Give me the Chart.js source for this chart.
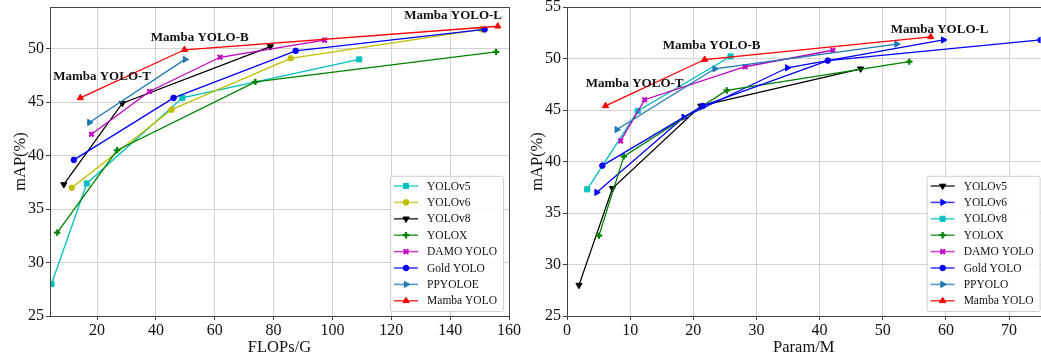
<!DOCTYPE html>
<html>
<head>
<meta charset="utf-8">
<script src="https://cdn.jsdelivr.net/npm/chart.js@4.4.1/dist/chart.umd.min.js"></script>
<style>
  body { margin: 0; background: #fff; overflow: hidden; }
  #left { position: absolute; left: 0; top: 0; width: 530px; height: 358px; }
  #right { position: absolute; left: 520px; top: 0; width: 526px; height: 358px; }
</style>
</head>
<body>
<div id="left"><canvas id="flopsChart"></canvas></div>
<div id="right"><canvas id="paramsChart"></canvas></div>
<script>
// values (FLOPs/G, Param/M vs mAP %)
const v5Flops = [4.5, 16.5, 49.0, 109.1];
const v5Params = [1.9, 7.2, 21.2, 46.5];
const v5Map = [28.0, 37.4, 45.4, 49.0];

const v6Flops = [11.4, 45.3, 85.8, 150.7];
const v6Params = [4.7, 18.5, 34.9, 59.6];
const v6Map = [37.0, 44.3, 49.1, 51.8];

const v8Flops = [8.7, 28.6, 78.9];
const v8Params = [3.2, 11.2, 25.9];
const v8Map = [37.3, 44.9, 50.2];

const yoloxFlops = [6.45, 26.8, 73.8, 155.6];
const yoloxParams = [5.06, 9.0, 25.3, 54.2];
const yoloxMap = [32.8, 40.5, 46.9, 49.7];

const damoFlops = [18.1, 37.8, 61.8, 97.3];
const damoParams = [8.5, 12.3, 28.2, 42.1];
const damoMap = [42.0, 46.0, 49.2, 50.8];

const goldFlops = [12.1, 46.0, 87.5, 151.7];
const goldParams = [5.6, 21.5, 41.3, 75.0];
const goldMap = [39.6, 45.4, 49.8, 51.8];

const ppFlops = [17.4, 49.9];
const ppFlopsMap = [43.1, 49.0];
const ppParams = [7.9, 23.4, 52.2];
const ppMap = [43.1, 49.0, 51.4];

const mambaFlops = [14.3, 49.7, 156.2];
const mambaParams = [6.1, 21.8, 57.6];
const mambaMap = [45.4, 49.9, 52.1];

const flopsTicks = [20, 40, 60, 80, 100, 120, 140, 160];
const paramsTicks = [0, 10, 20, 30, 40, 50, 60, 70];
const flopsMapTicks = [25, 30, 35, 40, 45, 50];
const paramsMapTicks = [25, 30, 35, 40, 45, 50, 55];

const flopsNotes = [['Mamba YOLO-T', 21.7, 47.4], ['Mamba YOLO-B', 54.9, 51.0], ['Mamba YOLO-L', 141.0, 53.1]];
const paramsNotes = [['Mamba YOLO-T', 10.7, 47.6], ['Mamba YOLO-B', 22.9, 51.2], ['Mamba YOLO-L', 59.0, 52.8]];

const SERIF = '"Liberation Serif", "Times New Roman", serif';

function series(label, xs, ys, color, style, rot) {
  let rad = 3;
  let bw = 1;
  if (style == 'rect') rad = 3.6;
  if (style == 'triangle') rad = 3.6;
  if (style == 'cross' || style == 'crossRot') { rad = 3.2; bw = 2.2; }
  if (style == 'circle') rad = 2.8;
  return {
    label: label,
    data: xs.map((x, i) => ({ x: x, y: ys[i] })),
    borderColor: color,
    backgroundColor: color,
    borderWidth: 1.3,
    showLine: true,
    pointStyle: style,
    pointRotation: rot || 0,
    pointRadius: rad,
    pointBorderWidth: bw,
    pointHoverRadius: rad
  };
}

const boxPlugin = {
  id: 'boxPlugin',
  afterDraw(chart, args, opts) {
    const ctx = chart.ctx, a = chart.chartArea;
    ctx.save();
    // top/right spines
    ctx.strokeStyle = '#444';
    ctx.lineWidth = 1;
    ctx.strokeRect(Math.round(a.left) + 0.5, Math.round(a.top) + 0.5, Math.round(a.right - a.left), Math.round(a.bottom - a.top));

    // annotations
    const xs = chart.scales.x, ys = chart.scales.y;
    ctx.font = 'bold 13px ' + SERIF;
    ctx.fillStyle = '#111';
    ctx.textAlign = 'center';
    ctx.textBaseline = 'middle';
    opts.notes.forEach(n => {
      ctx.fillText(n[0], xs.getPixelForValue(n[1]), ys.getPixelForValue(n[2]));
    });

    // legend
    const sets = chart.data.datasets;
    ctx.font = '11.5px ' + SERIF;
    const tw = Math.max(...sets.map(d => ctx.measureText(d.label).width));
    const row = 16.4;
    const w = 4 + 24 + 9 + tw + 6, h = sets.length * row + 4;
    const x0 = a.right - opts.right - w, y0 = a.bottom - opts.bottom - h;
    ctx.fillStyle = 'rgba(255,255,255,0.85)';
    ctx.strokeStyle = '#d0d0d0';
    ctx.beginPath();
    ctx.roundRect(x0 + 0.5, y0 + 0.5, w, h, 2);
    ctx.fill();
    ctx.stroke();
    ctx.textAlign = 'left';
    sets.forEach((d, i) => {
      const cy = y0 + 2 + row * (i + 0.5);
      ctx.strokeStyle = d.borderColor;
      ctx.fillStyle = d.borderColor;
      ctx.globalAlpha = 0.75;
      ctx.lineWidth = 1.6;
      ctx.beginPath();
      ctx.moveTo(x0 + 4, cy);
      ctx.lineTo(x0 + 28, cy);
      ctx.stroke();
      ctx.globalAlpha = 1;
      ctx.lineWidth = d.pointBorderWidth;
      Chart.helpers.drawPoint(ctx, {
        pointStyle: d.pointStyle, radius: d.pointRadius,
        rotation: d.pointRotation, borderWidth: d.pointBorderWidth
      }, x0 + 16, cy);
      ctx.fillStyle = '#111';
      ctx.fillText(d.label, x0 + 37, cy + 0.5);
    });
    ctx.restore();
  }
};

function noPad(s) {
  s.paddingTop = 0;
  s.paddingBottom = 0;
  s.paddingLeft = 0;
  s.paddingRight = 0;
}

function makeChart(id, datasets, xOpt, yOpt, notes, pad, yWidth, titlePad) {
  return new Chart(document.getElementById(id), {
    type: 'scatter',
    data: { datasets: datasets },
    plugins: [boxPlugin],
    options: {
      responsive: true,
      maintainAspectRatio: false,
      animation: false,
      devicePixelRatio: 1,
      layout: { padding: pad },
      plugins: {
        legend: { display: false },
        tooltip: { enabled: false },
        boxPlugin: { notes: notes, right: xOpt.legendRight, bottom: 5 }
      },
      scales: {
        x: {
          type: 'linear',
          min: xOpt.min,
          max: xOpt.max,
          afterBuildTicks: s => { s.ticks = xOpt.ticks.map(v => ({ value: v })); },
          afterFit: s => { s.height = 42; noPad(s); },
          grid: { color: '#d2d2d2', lineWidth: 1, tickLength: 4, tickColor: '#444' },
          border: { display: true, color: '#444', width: 1 },
          ticks: { color: '#111', font: { family: SERIF, size: 16 }, padding: 1, maxRotation: 0 },
          title: { display: true, text: xOpt.title, color: '#111', font: { family: SERIF, size: 16.5 }, padding: { top: 0, bottom: 0 } }
        },
        y: {
          type: 'linear',
          min: yOpt.min,
          max: yOpt.max,
          afterBuildTicks: s => { s.ticks = yOpt.ticks.map(v => ({ value: v })); },
          afterFit: s => { s.width = yWidth; noPad(s); },
          grid: { color: '#d2d2d2', lineWidth: 1, tickLength: 4, tickColor: '#444' },
          border: { display: true, color: '#444', width: 1 },
          ticks: { color: '#111', font: { family: SERIF, size: 16 }, padding: 2 },
          title: { display: true, text: 'mAP(%)', color: '#111', font: { family: SERIF, size: 16.5 }, padding: { top: titlePad, bottom: 0 } }
        }
      }
    }
  });
}

const flopsSets = [
  series('YOLOv5', v5Flops, v5Map, '#00bfbf', 'rect'),
  series('YOLOv6', v6Flops, v6Map, '#bfbf00', 'circle'),
  series('YOLOv8', v8Flops, v8Map, '#000000', 'triangle', 180),
  series('YOLOX', yoloxFlops, yoloxMap, '#008000', 'cross'),
  series('DAMO YOLO', damoFlops, damoMap, '#bf00bf', 'crossRot'),
  series('Gold YOLO', goldFlops, goldMap, '#0000ff', 'circle'),
  series('PPYOLOE', ppFlops, ppFlopsMap, '#1f77b4', 'triangle', 90),
  series('Mamba YOLO', mambaFlops, mambaMap, '#ff0000', 'triangle')
];
flopsSets.forEach((d, i) => { d.order = flopsSets.length - i; });

const paramsSets = [
  series('YOLOv5', v5Params, v5Map, '#000000', 'triangle', 180),
  series('YOLOv6', v6Params, v6Map, '#0000ff', 'triangle', 90),
  series('YOLOv8', v8Params, v8Map, '#00bfbf', 'rect'),
  series('YOLOX', yoloxParams, yoloxMap, '#008000', 'cross'),
  series('DAMO YOLO', damoParams, damoMap, '#bf00bf', 'crossRot'),
  series('Gold YOLO', goldParams, goldMap, '#0000ff', 'circle'),
  series('PPYOLO', ppParams, ppMap, '#1f77b4', 'triangle', 90),
  series('Mamba YOLO', mambaParams, mambaMap, '#ff0000', 'triangle')
];
paramsSets.forEach((d, i) => { d.order = paramsSets.length - i; });

makeChart('flopsChart', flopsSets,
  { min: 4, max: 160, ticks: flopsTicks, title: 'FLOPs/G', legendRight: 6 },
  { min: 25, max: 53.9, ticks: flopsMapTicks },
  flopsNotes, { left: 0, top: 7, right: 21, bottom: 0 }, 50, 11);

makeChart('paramsChart', paramsSets,
  { min: 0, max: 75, ticks: paramsTicks, title: 'Param/M', legendRight: 1 },
  { min: 25, max: 55, ticks: paramsMapTicks },
  paramsNotes, { left: 0, top: 7, right: 2, bottom: 0 }, 47, 8);
</script>
</body>
</html>
